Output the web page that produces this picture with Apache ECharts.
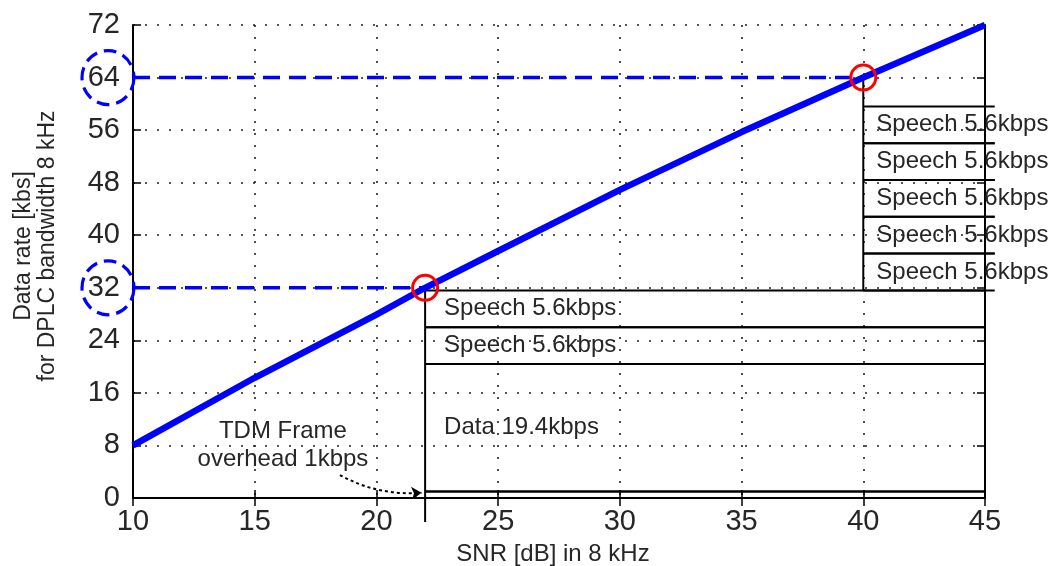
<!DOCTYPE html>
<html>
<head>
<meta charset="utf-8">
<script src="https://cdn.jsdelivr.net/npm/echarts@6/dist/echarts.min.js"></script>
<style>
  html, body { margin: 0; padding: 0; background: #fff; }
  #chart { width: 1052px; height: 566px; }
</style>
</head>
<body>
<div id="chart"></div>
<script>
// Achievable data rate against SNR for an 8 kHz DPLC channel
const snrDb = [10, 15, 20, 22, 25, 30, 35, 40, 45];
const dataRate = [8, 18.3, 27.9, 32, 37.6, 46.9, 55.7, 64, 72];

// Operating points marked on the curve
const pointSnr = [22, 40];
const pointRate = [32, 64];

// Axis ranges and steps
const xRange = [10, 45];
const xStep = 5;
const yRange = [0, 72];
const yStep = 8;

// TDM frame built on the 32 kbps operating point (kbps, bottom to top)
const lowerFrameSnr = [22, 45];
const lowerFrameRates = [1, 19.4, 5.6, 5.6];
const lowerFrameLabels = ['', 'Data 19.4kbps', 'Speech 5.6kbps', 'Speech 5.6kbps'];

// Extra speech channels gained at the 64 kbps operating point
const upperFrameSnr = [40, 45.4];
const upperFrameRates = [5.6, 5.6, 5.6, 5.6, 5.6];
const upperFrameLabels = ['Speech 5.6kbps', 'Speech 5.6kbps', 'Speech 5.6kbps', 'Speech 5.6kbps', 'Speech 5.6kbps'];

// Overhead note and its pointer
const noteText = 'TDM Frame\noverhead 1kbps';
const notePos = [16.16, 8.07];
const pointerFrom = [18.5, 3.5];
const pointerTo = [21.85, 0.8];

const FONT = '"Liberation Sans", Arial, Helvetica, sans-serif';
const TEXT = '#262626';
const LABEL_SIZE = 24;

const sum = a => a.reduce((s, v) => s + v, 0);
const lowerTop = sum(lowerFrameRates);

// Stack the rows of a frame as [x0, x1, low, high]
function stackRows(range, base, rates) {
  const rows = [];
  let lo = base;
  rates.forEach(r => { rows.push([range[0], range[1], lo, lo + r]); lo += r; });
  return rows;
}

// One custom series per frame: row borders, row labels and the left edge
function frameSeries(name, range, base, rates, labels, edgeTop, edgeBottom, textGap, tail) {
  const rows = stackRows(range, base, rates);
  return {
    type: 'custom',
    name: name,
    clip: false,
    silent: true,
    z: 3,
    data: rows,
    renderItem(params, api) {
      const tl = api.coord([api.value(0), api.value(3)]);
      const br = api.coord([api.value(1), api.value(2)]);
      const stroke = { stroke: '#000', lineWidth: 2 };
      const children = [
        { type: 'line', shape: { x1: tl[0], y1: tl[1], x2: br[0], y2: tl[1] }, style: stroke },
        { type: 'line', shape: { x1: tl[0], y1: br[1], x2: br[0], y2: br[1] }, style: stroke }
      ];
      const label = labels[params.dataIndex];
      if (label) {
        children.push({
          type: 'text',
          x: tl[0] + textGap,
          y: (tl[1] + br[1]) / 2,
          style: { text: label, font: LABEL_SIZE + 'px ' + FONT, fill: TEXT, align: 'left', verticalAlign: 'middle' }
        });
      }
      if (params.dataIndex === 0) {
        const top = api.coord([api.value(0), edgeTop]);
        const bot = api.coord([api.value(0), edgeBottom]);
        children.push({
          type: 'line',
          shape: { x1: top[0], y1: top[1], x2: bot[0], y2: bot[1] + tail },
          style: { stroke: '#000', lineWidth: 2 }
        });
      }
      return { type: 'group', children: children };
    }
  };
}

const chart = echarts.init(document.getElementById('chart'), null, { renderer: 'canvas' });

const tickStyle = { show: true, inside: true, length: 8, lineStyle: { color: '#000', width: 1.5 } };
const axisLine = { show: true, lineStyle: { color: '#000', width: 2 } };
const gridDots = { show: true, lineStyle: { color: '#222', width: 1.6, type: [2, 10] } };

const option = {
  animation: false,
  backgroundColor: '#fff',
  grid: { left: 133, right: 67, top: 25, bottom: 68, containLabel: false },
  xAxis: [
    {
      type: 'value', position: 'bottom', min: xRange[0], max: xRange[1], interval: xStep,
      axisLine: axisLine, axisTick: tickStyle, splitLine: gridDots,
      axisLabel: { color: TEXT, fontSize: 29, fontFamily: FONT, margin: 9 }
    },
    {
      type: 'value', position: 'top', min: xRange[0], max: xRange[1], interval: xStep,
      axisLine: axisLine, axisTick: tickStyle, splitLine: { show: false }, axisLabel: { show: false }
    }
  ],
  yAxis: [
    {
      type: 'value', position: 'left', min: yRange[0], max: yRange[1], interval: yStep,
      axisLine: axisLine, axisTick: tickStyle, splitLine: gridDots,
      axisLabel: { color: TEXT, fontSize: 29, fontFamily: FONT, margin: 13 }
    },
    {
      type: 'value', position: 'right', min: yRange[0], max: yRange[1], interval: yStep,
      axisLine: axisLine, axisTick: tickStyle, splitLine: { show: false }, axisLabel: { show: false }
    }
  ],
  graphic: [
    {
      type: 'text', x: 553, y: 554, silent: true,
      style: { text: 'SNR [dB] in 8 kHz', font: LABEL_SIZE + 'px ' + FONT, fill: TEXT, align: 'center', verticalAlign: 'middle' }
    },
    {
      type: 'text', x: 36, y: 246, rotation: Math.PI / 2, silent: true,
      style: {
        text: 'Data rate [kbs]\nfor DPLC bandwidth 8 kHz',
        font: '23px ' + FONT, fill: TEXT, align: 'center', verticalAlign: 'middle', lineHeight: 24
      }
    }
  ],
  series: [
    // guide lines from the operating points back to the rate axis
    ...pointSnr.map((x, i) => ({
      type: 'line', silent: true, z: 2, symbol: 'none',
      data: [[xRange[0], pointRate[i]], [x, pointRate[i]]],
      lineStyle: { color: '#0000ff', width: 3.5, type: [17, 9] }
    })),
    // dashed rings around the matching rate tick labels
    {
      type: 'scatter', silent: true, clip: false, z: 2,
      symbol: 'circle', symbolSize: [52, 54], symbolOffset: [-25, 0],
      data: pointRate.map(r => [xRange[0], r]),
      itemStyle: { color: 'rgba(0,0,0,0)', borderColor: '#0000ff', borderWidth: 3.2, borderType: [13, 7], opacity: 1 }
    },
    frameSeries('lowerFrame', lowerFrameSnr, 0, lowerFrameRates, lowerFrameLabels, lowerTop, 0, 19, 24),
    frameSeries('upperFrame', upperFrameSnr, lowerTop, upperFrameRates, upperFrameLabels, pointRate[1], lowerTop, 13, 0),
    // rate curve
    {
      type: 'line', silent: true, z: 4, symbol: 'none',
      data: snrDb.map((x, i) => [x, dataRate[i]]),
      lineStyle: { color: '#0000ff', width: 6.5 }
    },
    // operating point markers
    {
      type: 'scatter', silent: true, z: 5, clip: false,
      symbol: 'circle', symbolSize: 25,
      data: pointSnr.map((x, i) => [x, pointRate[i]]),
      itemStyle: { color: 'rgba(0,0,0,0)', borderColor: '#ff0000', borderWidth: 3, opacity: 1 }
    },
    // overhead note
    {
      type: 'scatter', silent: true, z: 5, symbolSize: 0,
      data: [notePos],
      itemStyle: { opacity: 1 },
      label: {
        show: true, position: 'inside', formatter: noteText,
        fontSize: LABEL_SIZE, fontFamily: FONT, color: TEXT, lineHeight: 28, align: 'center'
      }
    },
    // dotted pointer to the overhead row
    {
      type: 'lines', coordinateSystem: 'cartesian2d', silent: true, z: 5,
      symbol: ['none', 'arrow'], symbolSize: 10,
      data: [{ coords: [pointerFrom, pointerTo] }],
      lineStyle: { color: '#000', width: 2, type: [3, 3], curveness: -0.15, opacity: 1 }
    }
  ]
};

chart.setOption(option);
</script>
</body>
</html>
